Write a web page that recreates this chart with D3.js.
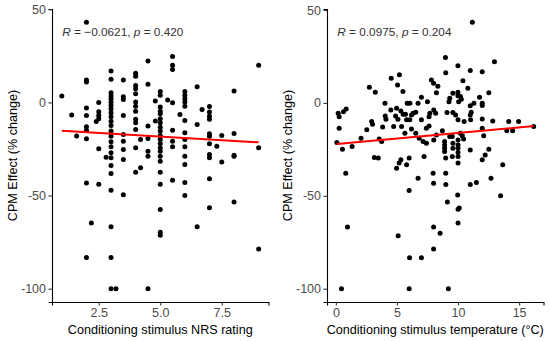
<!DOCTYPE html>
<html>
<head>
<meta charset="utf-8">
<script src="https://cdn.jsdelivr.net/npm/d3@7"></script>
<style>
  body { margin: 0; background: #fff; }
  svg { font-family: Arial, "Liberation Sans", sans-serif; display: block; }
</style>
</head>
<body>
<div id="chart"></div>
<script>
// Links: NRS-Bewertung vs. CPM-Effekt [x, y]
const nrsPoints = [
  [1.0,3.4],[1.4,-6.8],[1.6,-18],
  [2,43],[2,12],[2,11],[2,-3],[2,-7],[2,-13],[2,-15],[2,-19.5],[2,-43.2],[2,-83.3],
  [2.2,-64.7],
  [2.5,0],[2.5,-5],[2.5,-7],[2.5,-8.8],[2.4,-10.2],[2.5,-24.9],[2.5,-44],
  [2.8,-29.4],
  [3,16.8],[3,12.4],[3,5.2],[3,3.4],[3,2],[3,0.2],[3,-1.6],[3,-3.4],[3,-5.5],[3,-7.7],[3,-10.1],[3,-12.4],
  [3,-15.4],[3,-18.1],[3,-21.1],[3,-23.8],[3,-27],[3,-29.7],[3,-33.9],[3,-38.2],[3,-47.1],[3,-66.8],[3,-83.3],[3,-100],
  [3.2,-100],
  [3.5,12],[3.5,3.1],[3.5,1.6],[3.5,-7],[3.5,-17.2],[3.5,-20.8],[3.5,-25.3],[3.5,-30.6],[3.5,-49.6],
  [4,15.6],[4,14.1],[4,9.1],[4,7.4],[4,4.7],[4,0.2],[4,-2],[4,-4.7],[4,-9.1],[4,-10.9],[4,-14.5],[4,-24.4],[4,-37.5],
  [4.2,-19.9],[4.2,-35.1],
  [4.5,22.2],[4.5,9.7],[4.5,-12.7],[4.5,-19.4],[4.5,-26.2],[4.5,-28.9],[4.5,-100],
  [4.8,0.7],[4.8,-10],
  [5,5.8],[5,3.8],[5,-2.5],[5,-4.7],[5,-6.1],[5,-8.8],[5,-10.9],[5,-13.3],[5,-15.4],[5,-17.7],[5,-19.9],
  [5,-22],[5,-24.4],[5,-26.2],[5,-28.9],[5,-31.6],[5,-37.5],[5,-43.9],[5,-57.5],[5,-69.7],[5,-71.3],
  [5.3,1.3],
  [5.5,24.6],[5.5,19.9],[5.5,17.7],[5.5,-0.2],[5.5,-15],[5.5,-20.8],[5.5,-23.8],[5.5,-41.8],
  [5.8,-6.5],
  [6,5.8],[6,3.8],[6,2],[6,0.2],[6,-2],[6,-9.7],[6,-16.3],[6,-19.9],[6,-23.8],[6,-28.9],[6,-33.3],[6,-43],[6,-50],
  [6.5,8.4],[6.5,-11.8],[6.5,-66.8],
  [6.7,-3.8],
  [7,-2.2],[7,-5.2],[7,-7.4],[7,-9.1],[7,-16.8],[7,-18.1],[7,-22.2],[7,-28],[7,-29.7],[7,-41],[7,-56.6],
  [7.3,-23.5],
  [7.5,-17.7],[7.5,-32],
  [8,6.1],[8,-16.7],[8,-28.3],[8,-28.9],[8,-53.4],
  [9,20],[9,-24.4],[9,-78.7]
];

// Rechts: Temperatur vs. CPM-Effekt [x, y]
const tempPoints = [
  [4.53,13.3],[5.2,15.2],[5.05,9.7],[2.74,8.4],[3.23,5.7],[5.49,6.1],[7.82,12.4],[8.0,10.6],[8.35,9.0],[8.23,5.5],
  [4.02,-0.2],[5.84,-0.2],[6.06,-0.2],[6.73,-0.2],[7.0,3.1],[7.5,0.7],
  [0.19,-5.5],[0.27,-7.4],[0.62,-4.7],[0.84,-3.2],[0.27,-13.6],[0.08,-21.3],[0.54,-24.9],[1.33,-23.5],
  [2.06,-19],[2.53,-14.5],[2.93,-10],[3.0,-11.5],[3.55,-19.4],[3.75,-20.8],[3.83,-13],[4.1,-8.8],[4.04,-7],
  [4.5,-3.8],[4.73,-12.7],[4.89,-7],[5.08,-8.8],[4.97,-2.9],[5.32,-4.3],[5.51,-6.1],[5.38,-12.7],[5.7,-6.1],
  [5.79,-9.1],[5.65,-16.3],[6.19,-6.5],[6.32,-5.5],[6.54,-5],[6.05,-9.1],[6.19,-14],[6.54,-16.3],[6.82,-19],
  [7.0,-9.1],[7.14,-20.8],[7.41,-21.7],[7.41,-13.6],[7.63,-12.4],[7.63,-7.4],[7.69,-5.5],[8.01,-3.8],[8.17,-5.5],
  [8.01,-19.9],[8.23,-17.2],[3.15,-29.4],[3.47,-29.7],[5.32,-30.6],[5.18,-32.4],[4.97,-35.1],[6.0,-29.7],
  [5.79,-33.3],[7.22,-28.8],[0.81,-37.8],[6.73,-40.5],[7.96,-37.8],
  [9.99,20],[12.98,22.2],[8.99,16.3],[11.0,17.4],[11.98,16.8],[10.4,12],[10.8,7.9],
  [9.58,5.2],[9.32,2.5],[9.26,0.7],[9.99,5.8],[9.99,3.8],[10.2,3.4],[10.27,2.0],[10.05,0.7],[11.76,3.1],
  [11.98,-0.2],[11.98,-1.4],[11.3,-0.2],[11.0,-1.5],[12.52,5.5],
  [9.1,-5.2],[9.58,-5.2],[9.8,-6.5],[10.0,-9.1],[10.5,-10],[11.0,-6.5],[11.08,-5],[11.03,-9.1],[11.98,-8.6],
  [11.98,-13.6],[12.84,-9.7],[14.15,-10],[14.96,-10],[16.19,-12.7],[13.99,-15],[14.47,-15],[8.72,-15],[9.32,-18.1],
  [8.9,-20.8],[8.9,-22.6],[8.9,-24.4],[8.9,-26.2],[8.99,-29.7],[9.53,-18.1],[9.58,-21.7],[9.58,-24.4],
  [10.0,-19.9],[10.0,-22.6],[10.0,-24.4],[10.0,-26.7],[10.0,-28.9],[10.0,-32.4],[10.19,-16.3],[10.35,-17.7],
  [10.46,-19.4],[9.53,-28.9],[11.0,-25.3],[12.1,-17.7],[12.52,-24.9],[12.22,-28],[11.98,-30.6],[13.66,-33.3],
  [8.99,-37.8],[12.7,-40.5],
  [11.17,43.4],[8.97,24.4],
  [0.95,-66.8],[0.46,-100],[6.0,-47.1],[5.1,-71.5],[6.03,-83.3],[7.0,-83.3],[6.0,-100],[8.0,-43.2],[8.0,-66.8],
  [8.0,-78.7],[8.53,-70.1],[9.0,-43.9],[9.13,-53.4],[9.21,-100],[9.97,-49.5],[10.0,-57.2],[10.1,-56.6],
  [10.0,-64.7],[11.0,-43.9],[11.5,-42.8],[13.48,-50]
];

const nrsTicks = [2.5, 5.0, 7.5];
const tempTicks = [0, 5, 10, 15];
const effectTicks = [50, 0, -50, -100];
const nrsTitle = "Conditioning stimulus NRS rating";
const tempTitle = "Conditioning stimulus temperature (°C)";
const effectTitle = "CPM Effect (% change)";
const nrsStats = ["\u22120.0621", "0.420"];
const tempStats = ["0.0975", "0.204"];

const width = 550;
const height = 341;

const svg = d3.select("#chart")
    .append("svg")
    .attr("width", width)
    .attr("height", height);

// Regressionsgerade (kleinste Quadrate)
function linFit(pts) {
    const mx = d3.mean(pts, d => d[0]);
    const my = d3.mean(pts, d => d[1]);
    const b = d3.sum(pts, d => (d[0] - mx) * (d[1] - my)) / d3.sum(pts, d => (d[0] - mx) ** 2);
    return x => my + b * (x - mx);
}

// Bereich mit 5% Rand wie in ggplot
function expand(ext) {
    const pad = (ext[1] - ext[0]) * 0.05;
    return [ext[0] - pad, ext[1] + pad];
}

function drawPanel(offsetX, points, xTicks, xFmt, xTitle, stats) {
    const left = 52, right = 268.5, top = 9, bottom = 302;

    const g = svg.append("g").attr("transform", `translate(${offsetX},0)`);

    const xExt = d3.extent(points, d => d[0]);
    const x = d3.scaleLinear().domain(expand(xExt)).range([left, right]);
    const y = d3.scaleLinear().domain(expand(d3.extent(points, d => d[1]))).range([bottom, top]);

    // Achsen (ggplot nutzt einfachen Bindestrich)
    const xAxis = g.append("g")
        .attr("transform", `translate(0,${bottom})`)
        .call(d3.axisBottom(x).tickValues(xTicks).tickFormat(xFmt).tickSizeOuter(0).tickSize(3.5).tickPadding(3));
    const yAxis = g.append("g")
        .attr("transform", `translate(${left},0)`)
        .call(d3.axisLeft(y).tickValues(effectTicks).tickFormat(d => String(d)).tickSizeOuter(0).tickSize(3.5).tickPadding(2.5));

    [xAxis, yAxis].forEach(a => {
        a.select(".domain").attr("stroke", "#000").attr("stroke-width", 1.1);
        a.selectAll(".tick line").attr("stroke", "#333").attr("stroke-width", 1.1);
        a.selectAll(".tick text")
            .attr("fill", "#4d4d4d")
            .attr("font-size", 12.5)
            .attr("font-family", "Arial, 'Liberation Sans', sans-serif");
    });

    // Punkte
    g.append("g")
        .selectAll("circle")
        .data(points)
        .join("circle")
        .attr("cx", d => x(d[0]))
        .attr("cy", d => y(d[1]))
        .attr("r", 2.5)
        .attr("fill", "#000");

    // Regressionslinie
    const fit = linFit(points);
    g.append("path")
        .datum(xExt)
        .attr("d", d3.line().x(d => x(d)).y(d => y(fit(d))))
        .attr("stroke", "#ff0000")
        .attr("stroke-width", 2)
        .attr("fill", "none");

    // Korrelation
    const label = g.append("text")
        .attr("x", left + 10.3)
        .attr("y", 35.5)
        .attr("font-size", 11.8)
        .attr("fill", "#333");
    label.append("tspan").attr("font-style", "italic").text("R");
    label.append("tspan").text(` = ${stats[0]}, `);
    label.append("tspan").attr("font-style", "italic").text("p");
    label.append("tspan").text(` = ${stats[1]}`);

    // Achsentitel
    g.append("text")
        .attr("x", (left + right) / 2)
        .attr("y", 333.5)
        .attr("text-anchor", "middle")
        .attr("font-size", 12.6)
        .attr("fill", "#000")
        .text(xTitle);

    g.append("text")
        .attr("transform", `translate(16.8,${(top + bottom) / 2}) rotate(-90)`)
        .attr("text-anchor", "middle")
        .attr("font-size", 12.6)
        .attr("fill", "#000")
        .text(effectTitle);
}

drawPanel(0, nrsPoints, nrsTicks, d3.format(".1f"), nrsTitle, nrsStats);
drawPanel(275, tempPoints, tempTicks, d3.format("d"), tempTitle, tempStats);
</script>
</body>
</html>
